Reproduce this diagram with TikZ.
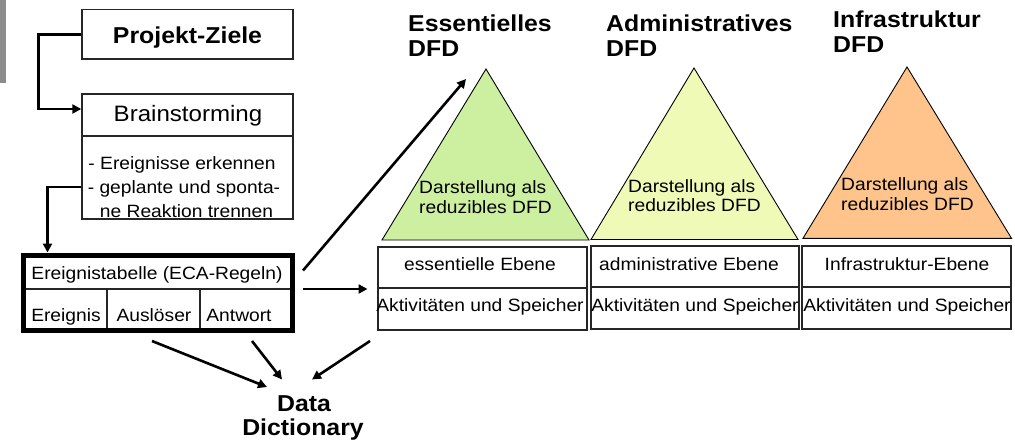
\documentclass[tikz,border=0pt]{standalone}
\usepackage{fontspec}
\setmainfont[FakeStretch=1.08]{Liberation Sans}
\usetikzlibrary{arrows.meta}
\definecolor{grn}{RGB}{204,239,160}
\definecolor{ylw}{RGB}{238,250,182}
\definecolor{org}{RGB}{254,196,140}
\definecolor{barg}{RGB}{140,140,140}
\tikzset{
  box/.style={draw=black!85, line width=1.4pt, rectangle, inner sep=0pt},
  thickbox/.style={draw=black, line width=5pt, rectangle, inner sep=0pt},
  txt/.style={inner sep=0pt, anchor=base, font=\fontsize{17.8}{20}\selectfont},
  txtl/.style={txt, anchor=base west},
  mid/.style={inner sep=0pt, anchor=base, font=\fontsize{22.3}{25}\selectfont},
  big/.style={inner sep=0pt, anchor=base west, font=\fontsize{23}{26}\selectfont\bfseries},
  bigc/.style={big, anchor=base},
  arr/.style={line width=2.6pt, -{Triangle[width=9pt,length=9pt]}},
  tri/.style={draw=black, line width=0.9pt, line join=miter},
}
\begin{document}
\begin{tikzpicture}[x=1pt,y=-1pt]
\useasboundingbox (0,0) rectangle (1015,441);
\fill[barg] (0,0) rectangle (6,83);

% left column boxes
\node[box, minimum width=211, minimum height=49.5] (pz) at (187.5,34.25) {};
\node[big, anchor=base] (pzt) at (187.5,43.3) {Projekt-Ziele};
\node[box, minimum width=211, minimum height=42] (bst) at (187.5,115) {};
\node[mid] (bstt) at (188,122) {Brainstorming};
\node[box, minimum width=211, minimum height=83] (bsb) at (187.5,177.5) {};
\node[txt] (bs1) at (182,170) {- Ereignisse erkennen};
\node[txt] (bs2) at (184,193.5) {- geplante und sponta-};
\node[txt] (bs3) at (186.5,217) {ne Reaktion trennen};

% Ereignistabelle
\node[box, minimum width=269, minimum height=34] (eth) at (158,272) {};
\node[box, minimum width=83.5, minimum height=41] (c1) at (65.25,309.5) {};
\node[box, minimum width=93, minimum height=41] (c2) at (153.5,309.5) {};
\node[box, minimum width=92.5, minimum height=41] (c3) at (246.25,309.5) {};
\node[thickbox, minimum width=269, minimum height=75] (et) at (158,292.5) {};
\node[txt] (etht) at (157,279) {Ereignistabelle (ECA-Regeln)};
\node[txt] (c1t) at (66,321.5) {Ereignis};
\node[txt] (c2t) at (154,321.5) {Auslöser};
\node[txt] (c3t) at (239,321.5) {Antwort};

% triangles
\draw[tri, fill=grn] (486,69) -- (382,240) -- (589,240) -- cycle;
\draw[tri, fill=ylw] (694,68) -- (591,239.5) -- (798,239.5) -- cycle;
\draw[tri, fill=org] (907,67) -- (803,238.3) -- (1011.5,238.3) -- cycle;
\node[txtl] (d1a) at (419,193.3) {Darstellung als};
\node[txtl] (d1b) at (419,213.3) {reduzibles DFD};
\node[txtl] (d2a) at (628,192.7) {Darstellung als};
\node[txtl] (d2b) at (628,211.7) {reduzibles DFD};
\node[txtl] (d3a) at (841,190.7) {Darstellung als};
\node[txtl] (d3b) at (841,210.7) {reduzibles DFD};

% titles
\node[big] (h1a) at (408,32) {Essentielles};
\node[big] (h1b) at (408,57) {DFD};
\node[big] (h2a) at (606,32) {Administratives};
\node[big] (h2b) at (606,57) {DFD};
\node[big] (h3a) at (833,28) {Infrastruktur};
\node[big] (h3b) at (833,53) {DFD};

% level boxes
\node[box, minimum width=209, minimum height=41] (e1) at (482.5,267.5) {};
\node[box, minimum width=209, minimum height=42] (a1) at (482.5,309) {};
\node[box, minimum width=208, minimum height=41] (e2) at (695,266.5) {};
\node[box, minimum width=208, minimum height=42] (a2) at (695,308) {};
\node[box, minimum width=209, minimum height=41] (e3) at (906.5,266.5) {};
\node[box, minimum width=209, minimum height=42] (a3) at (906.5,308) {};
\node[txt] (e1t) at (480,270) {essentielle Ebene};
\node[txt] (a1t) at (480,311.5) {Aktivitäten und Speicher};
\node[txt] (e2t) at (689,270) {administrative Ebene};
\node[txt] (a2t) at (695,311) {Aktivitäten und Speicher};
\node[txt] (e3t) at (907,270) {Infrastruktur-Ebene};
\node[txt] (a3t) at (907,311) {Aktivitäten und Speicher};

% data dictionary
\node[bigc] (dd1) at (304,411.7) {Data};
\node[bigc] (dd2) at (303,435) {Dictionary};

% free connector ends
\coordinate (hs) at (303,289);
\coordinate (he) at (367.5,289);
\coordinate (ds) at (303,270.5);
\coordinate (de) at (466,79);
\coordinate (p1s) at (152,341);
\coordinate (p1e) at (267,387);
\coordinate (p2s) at (252,341);
\coordinate (p2e) at (282,379.5);
\coordinate (p3s) at (370,341);
\coordinate (p3e) at (312,379.5);

% connectors
\draw[arr] (pz.west) -- ++(-43,0) |- ([yshift=6pt]bst.west);
\draw[arr] ([yshift=-9.5pt]bsb.west) -| ([xshift=-110.5pt]et.north);
\draw[arr] (hs) -- (he);
\draw[arr] (ds) -- (de);
\draw[arr] (p1s) -- (p1e);
\draw[arr] (p2s) -- (p2e);
\draw[arr] (p3s) -- (p3e);
\end{tikzpicture}
\end{document}
